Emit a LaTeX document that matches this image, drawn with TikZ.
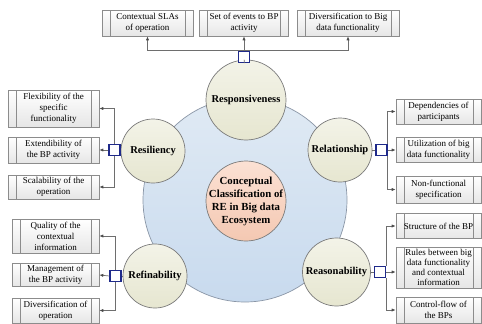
\documentclass[tikz,border=0pt]{standalone}
\usepackage{fontspec}
\setmainfont{Liberation Serif}
\usetikzlibrary{arrows.meta}
\definecolor{bigtop}{HTML}{E0EAF4}
\definecolor{bigbot}{HTML}{C8DAEE}
\definecolor{bigdraw}{HTML}{8A96A6}
\definecolor{ctop}{HTML}{F3F3E8}
\definecolor{cbot}{HTML}{E6E6D0}
\definecolor{cdraw}{HTML}{7A7A7A}
\definecolor{ptop}{HTML}{FBE1D4}
\definecolor{pbot}{HTML}{F4C8B2}
\definecolor{navy}{HTML}{1F2A8A}
\definecolor{boxdraw}{HTML}{8C8C8C}
\definecolor{boxbot}{HTML}{E6E6E6}
\definecolor{linecol}{HTML}{6E6E6E}
\definecolor{tipcol}{HTML}{4A4A4A}
\tikzset{
  sbox/.style={draw=boxdraw, line width=0.6pt, top color=white, bottom color=boxbot,
    inner sep=0pt, align=center, font=\fontsize{9}{11}\selectfont,
    path picture={\draw[boxdraw, line width=0.6pt]
      ([xshift=8pt]path picture bounding box.north west) -- ([xshift=8pt]path picture bounding box.south west)
      ([xshift=-8pt]path picture bounding box.north east) -- ([xshift=-8pt]path picture bounding box.south east);}},
  facet/.style={circle, draw=cdraw, line width=0.7pt, top color=ctop, bottom color=cbot,
    inner sep=0pt, font=\fontsize{10.5}{13}\selectfont\bfseries},
  hub/.style={rectangle, draw=navy, line width=1.3pt, fill=white, minimum size=11pt, inner sep=0pt},
  conn/.style={draw=linecol, line width=0.7pt, -{Latex[length=4pt,width=3.2pt,color=tipcol]}},
  link/.style={draw=linecol, line width=0.7pt}
}
\begin{document}
\begin{tikzpicture}[x=1pt,y=-1pt]
\useasboundingbox (0,0) rectangle (482,324);
% big circle
\node[circle, draw=bigdraw, line width=0.7pt, top color=bigtop, bottom color=bigbot, minimum size=204pt, inner sep=0pt] (big) at (245,200) {};
% center
\node[circle, draw=cdraw, line width=0.7pt, top color=ptop, bottom color=pbot, minimum size=80pt, inner sep=0pt,
  label={[font=\fontsize{10.8}{13}\selectfont\bfseries, align=center]center:Conceptual\\Classification of\\RE in Big data\\Ecosystem}] (core) at (246,201) {};
% facets
\node[facet, minimum size=80pt] (resp) at (246,100) {Responsiveness};
\node[facet, minimum size=64pt] (resil) at (153,151) {Resiliency};
\node[facet, minimum size=64pt] (rel) at (340,150) {Relationship};
\node[facet, minimum size=64pt] (refin) at (155,276) {Refinability};
\node[facet, minimum size=68pt] (reas) at (336.5,272) {Reasonability};
% hubs
\node[hub] (rs) at (244,57) {};
\node[hub] (rl) at (114.5,150) {};
\node[hub] (rr) at (381.5,150) {};
\node[hub] (rf) at (115.5,276) {};
\node[hub] (rq) at (380,272) {};
% boxes top
\node[sbox, minimum width=91pt, minimum height=26pt] (t1) at (147.5,23) {Contextual SLAs\\of operation};
\node[sbox, minimum width=89pt, minimum height=26pt] (t2) at (244,23) {Set of events to BP\\activity};
\node[sbox, minimum width=102pt, minimum height=26pt] (t3) at (348,23) {Diversification to Big\\data functionality};
% left
\node[sbox, minimum width=91pt, minimum height=37pt] (l1) at (53.5,108.5) {Flexibility of the\\specific\\functionality};
\node[sbox, minimum width=91pt, minimum height=26pt] (l2) at (53.5,150) {Extendibility of\\the BP activity};
\node[sbox, minimum width=91pt, minimum height=24pt] (l3) at (53.5,187) {Scalability of the\\operation};
% lower left
\node[sbox, minimum width=87pt, minimum height=34pt] (f1) at (55.5,236) {Quality of the\\contextual\\information};
\node[sbox, minimum width=87pt, minimum height=23pt] (f2) at (55.5,275) {Management of\\the BP activity};
\node[sbox, minimum width=87pt, minimum height=25pt] (f3) at (55.5,310.5) {Diversification of\\operation};
% right
\node[sbox, minimum width=85pt, minimum height=25pt] (r1) at (438.5,111.5) {Dependencies of\\participants};
\node[sbox, minimum width=85pt, minimum height=25pt] (r2) at (438.5,150) {Utilization of big\\data functionality};
\node[sbox, minimum width=85pt, minimum height=27pt] (r3) at (438.5,189.5) {Non-functional\\specification};
% lower right
\node[sbox, minimum width=85pt, minimum height=25pt] (q1) at (438.5,226) {Structure of the BP};
\node[sbox, minimum width=85pt, minimum height=41pt, font=\fontsize{9}{10}\selectfont] (q2) at (438.5,267.5) {Rules between big\\data functionality\\and contextual\\information};
\node[sbox, minimum width=85pt, minimum height=26pt] (q3) at (438.5,310) {Control-flow of\\the BPs};
% links circle-hub
\draw[link] (resp) -- (rs);
\draw[link] (resil) -- (rl);
\draw[link] (rel) -- (rr);
\draw[link] (refin) -- (rf);
\draw[link] (reas) -- (rq);
% top connectors
\coordinate (tbus) at (244,50.5);
\draw[conn] (rs.north) -- (t2.south);
\draw[conn] (tbus) -| (t1.south);
\draw[conn] (tbus) -| (t3.south);
% left connectors
\draw[conn] (rl.north) |- (l1.east);
\draw[conn] (rl.west) -- (l2.east);
\draw[conn] (rl.south) |- (l3.east);
\draw[conn] (rf.north) |- (f1.east);
\draw[conn] (rf.west) -- (f2.east);
\draw[conn] (rf.south) |- (f3.east);
% right connectors
\draw[conn] (rr.north east) |- (r1.west);
\draw[conn] (rr.east) -- (r2.west);
\draw[conn] (rr.south east) |- (r3.west);
\draw[conn] (rq.north east) |- (q1.west);
\draw[conn] (rq.east) -- (q2.west |- rq.east);
\draw[conn] (rq.south east) |- (q3.west);
\end{tikzpicture}
\end{document}
